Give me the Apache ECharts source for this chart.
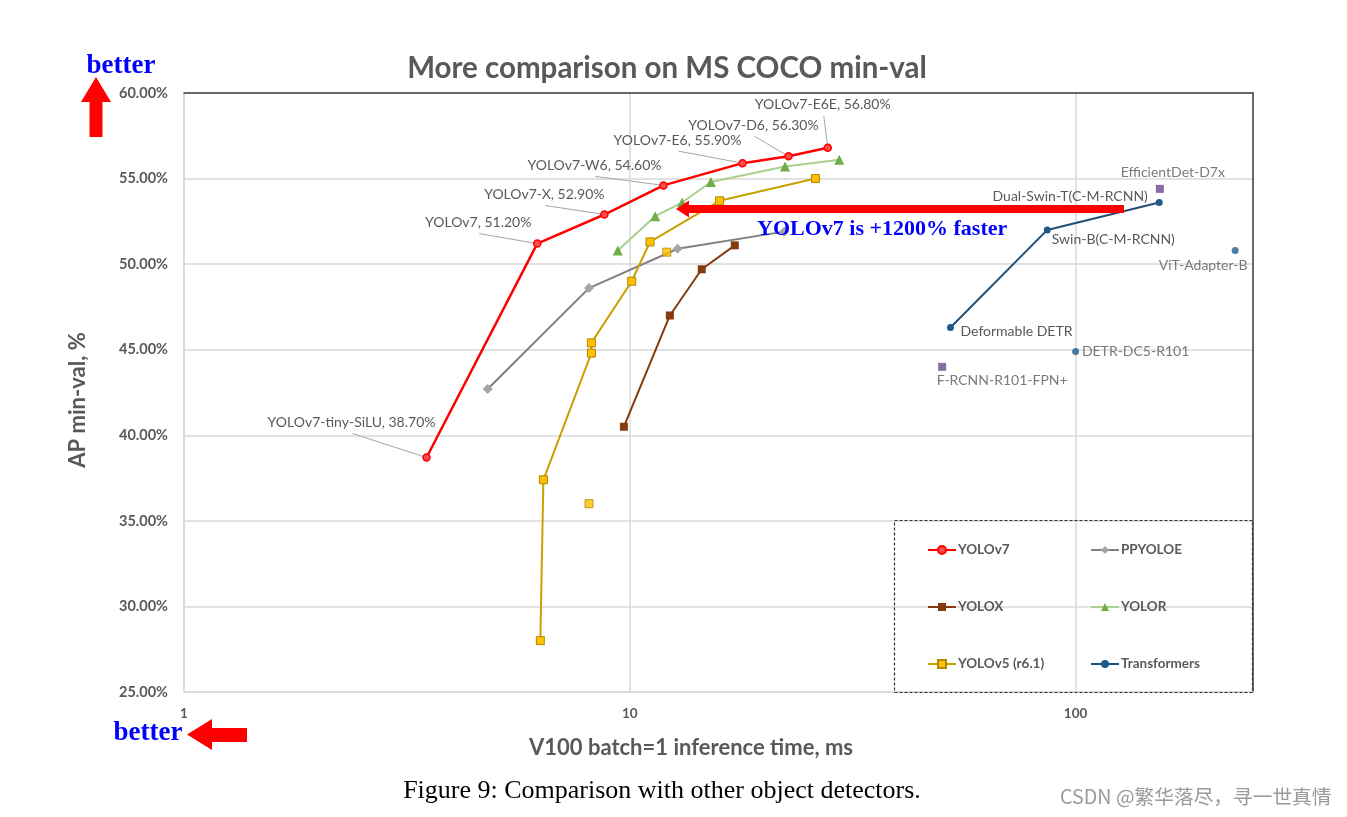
<!DOCTYPE html>
<html>
<head>
<meta charset="utf-8">
<script src="https://cdn.jsdelivr.net/npm/echarts@6/dist/echarts.min.js"></script>
<style>
html,body{margin:0;padding:0;background:#fff;}
#chart{width:1347px;height:817px;}
</style>
</head>
<body>
<div id="chart"></div>
<script>
// ---------- data ----------
const yolov7Names = ['YOLOv7-tiny-SiLU', 'YOLOv7', 'YOLOv7-X', 'YOLOv7-W6', 'YOLOv7-E6', 'YOLOv7-D6', 'YOLOv7-E6E'];
const yolov7Time = [3.5, 6.2, 8.77, 11.9, 17.9, 22.7, 27.8];
const yolov7AP = [38.7, 51.2, 52.9, 54.6, 55.9, 56.3, 56.8];

const ppyoloeTime = [4.8, 8.1, 12.8, 22.2];
const ppyoloeAP = [42.7, 48.6, 50.9, 51.9];

const yoloxTime = [9.7, 12.3, 14.5, 17.2];
const yoloxAP = [40.5, 47.0, 49.7, 51.1];

const yolorTime = [9.4, 11.4, 13.1, 15.2, 22.3, 29.5];
const yolorAP = [50.8, 52.8, 53.6, 54.8, 55.7, 56.1];

const yolov5Time = [6.3, 6.4, 8.2, 8.2, 10.1, 11.1, 15.9, 26.1];
const yolov5AP = [28.0, 37.4, 44.8, 45.4, 49.0, 51.3, 53.7, 55.0];
const yolov5ExtraTime = [8.1, 12.1];
const yolov5ExtraAP = [36.0, 50.7];

const transNames = ['Deformable DETR', 'Swin-B(C-M-RCNN)', 'Dual-Swin-T(C-M-RCNN)'];
const transTime = [52.4, 86.4, 154];
const transAP = [46.3, 52.0, 53.6];
const transExtraNames = ['ViT-Adapter-B', 'DETR-DC5-R101'];
const transExtraTime = [228, 100];
const transExtraAP = [50.8, 44.9];

const otherNames = ['EfficientDet-D7x', 'F-RCNN-R101-FPN+'];
const otherTime = [154.5, 50.2];
const otherAP = [54.4, 44.0];

const yTicks = [25, 30, 35, 40, 45, 50, 55, 60];

// ---------- styling (not data) ----------
const SANS = 'Lato, "Open Sans", sans-serif';
const SERIF = '"Liberation Serif", "DejaVu Serif", serif';
const GREY = '#595959';
const yolov7LabelOffsets = [[-75, -35], [-59, -21], [-60, -20], [-69, -20], [-65, -23], [-35, -31], [-5, -43]];
const transLabelOffsets = [[66, 4], [66, 10], [-89, -6]];
const transExtraOffsets = [[-32, 15], [60, 0]];
const otherOffsets = [[13, -16], [60, 14]];

function pts(xs, ys, names) {
  return xs.map((x, i) => ({ value: [x, ys[i]], name: names ? names[i] : '' }));
}
function pointLabel(offsets) {
  return function (arr) {
    return arr.map((d, i) => Object.assign(d, {
      label: { show: true, position: 'inside', offset: offsets[i], formatter: '{b}', color: GREY, fontSize: 14, fontFamily: SANS }
    }));
  };
}

const chart = echarts.init(document.getElementById('chart'), null, { renderer: 'canvas' });

const option = {
  animation: false,
  backgroundColor: '#fff',
  title: {
    text: 'More comparison on MS COCO min-val',
    left: 662, top: 48, textAlign: 'center',
    textStyle: { color: GREY, fontSize: 29.5, fontWeight: 'bold', fontFamily: SANS }
  },
  grid: { left: 184, right: 94, top: 93, bottom: 125, containLabel: false },
  xAxis: [{
    type: 'log', logBase: 10, min: 1, max: 250,
    axisLine: { show: true, lineStyle: { color: '#D9D9D9', width: 1.5 } },
    axisTick: { show: false },
    axisLabel: { color: GREY, fontSize: 13.5, fontWeight: 'bold', fontFamily: SANS, margin: 15, showMaxLabel: false,
      formatter: v => String(Math.round(v)) },
    splitLine: { show: true, lineStyle: { color: '#D9D9D9', width: 1.5 } }
  }, {
    type: 'log', logBase: 10, min: 1, max: 250, position: 'top',
    axisLine: { show: true, lineStyle: { color: '#404040', width: 1.5 } },
    axisTick: { show: false }, axisLabel: { show: false }, splitLine: { show: false }
  }],
  yAxis: [{
    type: 'value', min: yTicks[0], max: yTicks[yTicks.length - 1], interval: 5,
    axisLine: { show: true, lineStyle: { color: '#D9D9D9', width: 1.5 } },
    axisTick: { show: false },
    axisLabel: { color: GREY, fontSize: 14.5, fontWeight: 'bold', fontFamily: SANS, margin: 16,
      formatter: v => v.toFixed(2) + '%' },
    splitLine: { show: true, lineStyle: { color: '#D9D9D9', width: 1.5 } }
  }, {
    type: 'value', min: yTicks[0], max: yTicks[yTicks.length - 1], interval: 5, position: 'right',
    axisLine: { show: true, lineStyle: { color: '#404040', width: 1.5 } },
    axisTick: { show: false }, axisLabel: { show: false }, splitLine: { show: false }
  }],
  legend: [{
    orient: 'vertical', left: 922, top: 538, itemGap: 43, itemWidth: 28, itemHeight: 10,
    data: ['YOLOv7', 'YOLOX', 'YOLOv5 (r6.1)'],
    textStyle: { color: GREY, fontSize: 13.5, fontWeight: 'bold', fontFamily: SANS, padding: [0, 0, 0, -3] }
  }, {
    orient: 'vertical', left: 1085, top: 538, itemGap: 43, itemWidth: 28, itemHeight: 10,
    data: ['PPYOLOE', 'YOLOR', 'Transformers'],
    textStyle: { color: GREY, fontSize: 13.5, fontWeight: 'bold', fontFamily: SANS, padding: [0, 0, 0, -3] }
  }],
  series: [
    {
      name: 'leader lines', type: 'custom', z: 2, silent: true,
      data: yolov7Time.map((t, i) => [t, yolov7AP[i]]),
      renderItem: function (params, api) {
        const p = api.coord([api.value(0), api.value(1)]);
        const o = yolov7LabelOffsets[params.dataIndex];
        return {
          type: 'line',
          shape: { x1: p[0] + o[0] + 1, y1: p[1] + o[1] + 11, x2: p[0], y2: p[1] },
          style: { stroke: '#A6A6A6', lineWidth: 1 }
        };
      }
    },
    {
      name: 'PPYOLOE', type: 'line', data: pts(ppyoloeTime, ppyoloeAP),
      symbol: 'diamond', symbolSize: 10,
      lineStyle: { color: '#808080', width: 2 },
      itemStyle: { color: '#A5A5A5' }, z: 3
    },
    {
      name: 'YOLOX', type: 'line', data: pts(yoloxTime, yoloxAP),
      symbol: 'rect', symbolSize: 8,
      lineStyle: { color: '#843C0C', width: 2 },
      itemStyle: { color: '#843C0C' }, z: 3
    },
    {
      name: 'YOLOv5 (r6.1)', type: 'line', data: pts(yolov5Time, yolov5AP),
      symbol: 'rect', symbolSize: 8,
      lineStyle: { color: '#C9A000', width: 2 },
      itemStyle: { color: '#FFC000', borderColor: '#B08800', borderWidth: 1 }, z: 4
    },
    {
      name: 'YOLOv5 (r6.1) extra', type: 'scatter', data: pts(yolov5ExtraTime, yolov5ExtraAP),
      symbol: 'rect', symbolSize: 8,
      itemStyle: { color: '#FFC000', borderColor: '#B08800', borderWidth: 1 }, z: 4
    },
    {
      name: 'YOLOR', type: 'line', data: pts(yolorTime, yolorAP),
      symbol: 'triangle', symbolSize: 10,
      lineStyle: { color: '#A9D18E', width: 2 },
      itemStyle: { color: '#70AD47' }, z: 4
    },
    {
      name: 'YOLOv7', type: 'line', data: pts(yolov7Time, yolov7AP, yolov7Names),
      symbol: 'circle', symbolSize: 7,
      lineStyle: { color: '#FF0000', width: 2.5 },
      itemStyle: { color: '#FF4D4D', borderColor: '#FF0000', borderWidth: 1.5 }, z: 5,
      label: {
        show: true, position: 'inside', color: GREY, fontSize: 14, fontFamily: SANS,
        formatter: p => p.name + ', ' + p.value[1].toFixed(2) + '%'
      },
      labelLayout: function (p) {
        const o = yolov7LabelOffsets[p.dataIndex];
        return {
          x: p.rect.x + p.rect.width / 2 + o[0],
          y: p.rect.y + p.rect.height / 2 + o[1],
          align: 'center', verticalAlign: 'middle'
        };
      }
    },
    {
      name: 'Transformers', type: 'line', data: pointLabel(transLabelOffsets)(pts(transTime, transAP, transNames)),
      symbol: 'circle', symbolSize: 7,
      lineStyle: { color: '#1F4E79', width: 2 },
      itemStyle: { color: '#1F5A8C' }, z: 4
    },
    {
      name: 'Transformers extra', type: 'scatter', data: pointLabel(transExtraOffsets)(pts(transExtraTime, transExtraAP, transExtraNames)),
      symbol: 'circle', symbolSize: 7,
      itemStyle: { color: '#1F5A8C' }, z: 4
    },
    {
      name: 'Others', type: 'scatter', data: pointLabel(otherOffsets)(pts(otherTime, otherAP, otherNames)),
      symbol: 'rect', symbolSize: 8,
      itemStyle: { color: '#69478F' }, z: 4
    }
  ],
  graphic: [
    // legend dashed box
    { type: 'rect', shape: { x: 894.5, y: 520.5, width: 358, height: 172 }, style: { fill: 'none', stroke: '#333', lineWidth: 1.2, lineDash: [3, 2] }, z: 10 },
    // big red arrow
    { type: 'polygon', shape: { points: [[676, 209], [689, 200.5], [689, 205], [1124, 205], [1124, 213], [689, 213], [689, 217.5]] }, style: { fill: '#FF0000' }, z: 20 },
    { type: 'text', x: 757, y: 229, style: { text: 'YOLOv7 is +1200% faster', fill: '#0000FF', font: 'bold 22px ' + SERIF, textVerticalAlign: 'middle' }, z: 21 },
    // top "better" + up arrow
    { type: 'text', x: 121, y: 66, style: { text: 'better', fill: '#0000FF', font: 'bold 27px ' + SERIF, textAlign: 'center', textVerticalAlign: 'middle' }, z: 20 },
    { type: 'polygon', shape: { points: [[96, 77], [111, 102], [102.5, 102], [102.5, 137], [89.5, 137], [89.5, 102], [81, 102]] }, style: { fill: '#FF0000' }, z: 20 },
    // bottom "better" + left arrow
    { type: 'text', x: 148, y: 733, style: { text: 'better', fill: '#0000FF', font: 'bold 27px ' + SERIF, textAlign: 'center', textVerticalAlign: 'middle' }, z: 20 },
    { type: 'polygon', shape: { points: [[187, 734.5], [212, 719], [212, 728], [247, 728], [247, 742], [212, 742], [212, 750]] }, style: { fill: '#FF0000' }, z: 20 },
    // axis titles
    { type: 'text', x: 78, y: 400, rotation: Math.PI / 2, style: { text: 'AP min-val, %', fill: GREY, font: 'bold 22px ' + SANS, textAlign: 'center', textVerticalAlign: 'middle' }, z: 20 },
    { type: 'text', x: 691, y: 748, style: { text: 'V100 batch=1 inference time, ms', fill: GREY, font: 'bold 22px ' + SANS, textAlign: 'center', textVerticalAlign: 'middle' }, z: 20 },
    // caption
    { type: 'text', x: 662, y: 791, style: { text: 'Figure 9: Comparison with other object detectors.', fill: '#000', font: '26px ' + SERIF, textAlign: 'center', textVerticalAlign: 'middle' }, z: 20 },
    // watermark
    { type: 'text', x: 1060, y: 797, style: { text: 'CSDN @繁华落尽，寻一世真情', fill: '#9A9A9A', font: '19.7px "Noto Sans CJK SC", sans-serif', textVerticalAlign: 'middle' }, z: 20 }
  ]
};
chart.setOption(option);
</script>
</body>
</html>
